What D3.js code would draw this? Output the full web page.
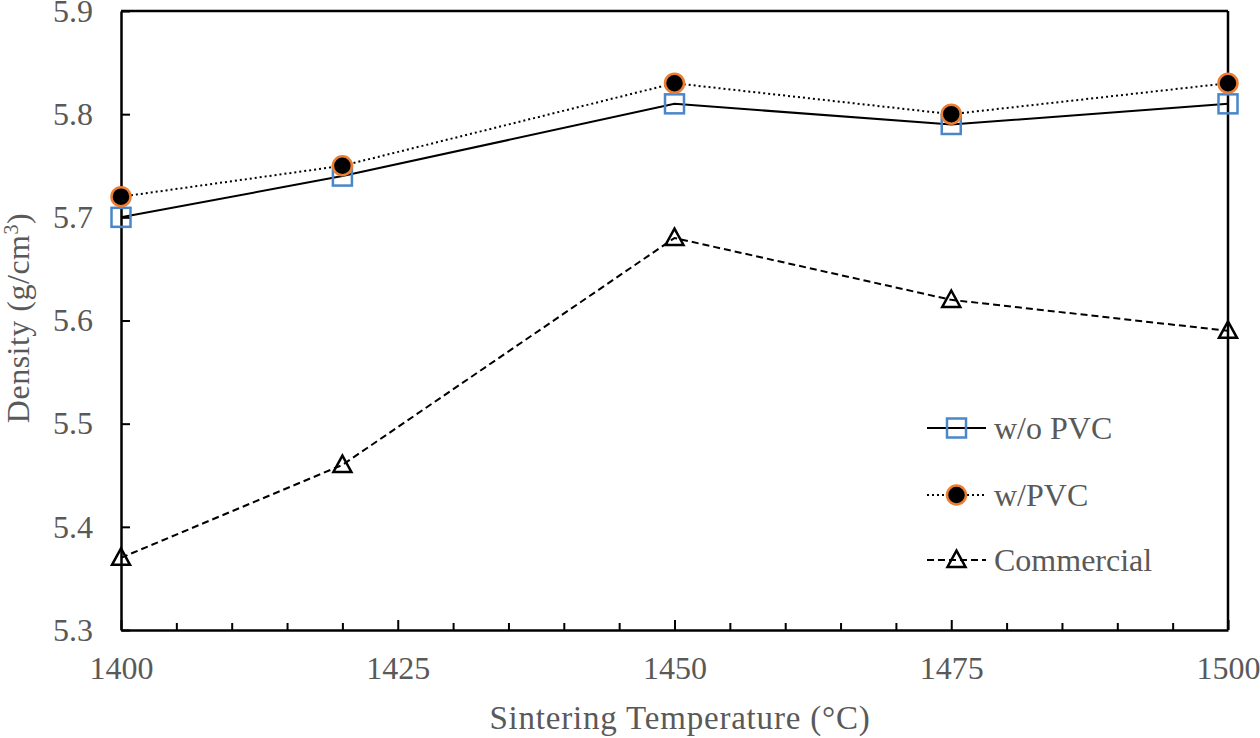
<!DOCTYPE html>
<html><head><meta charset="utf-8">
<script src="https://cdn.jsdelivr.net/npm/d3@7"></script>
<style>
html,body{margin:0;padding:0;background:#fff;}
svg{display:block;}
text{font-family:"Liberation Serif","Times New Roman",serif;fill:#595959;}
</style></head>
<body><svg id="c" width="1260" height="738"></svg>
<script>
const temps = [1400, 1420, 1450, 1475, 1500];
const woPVC = [5.70, 5.74, 5.81, 5.79, 5.81];
const wPVC = [5.72, 5.75, 5.83, 5.80, 5.83];
const commercial = [5.37, 5.46, 5.68, 5.62, 5.59];
const xTicks = [1400, 1425, 1450, 1475, 1500];
const yTicks = [5.3, 5.4, 5.5, 5.6, 5.7, 5.8, 5.9];
const seriesNames = ["w/o PVC", "w/PVC", "Commercial"];

const svg = d3.select("#c");
const L = 121, R = 1228, T = 11, B = 630;
const x = d3.scaleLinear().domain([1400, 1500]).range([L, R]);
const y = d3.scaleLinear().domain([5.3, 5.9]).range([B, T]);

svg.append("line").attr("x1", L).attr("x2", R).attr("y1", T).attr("y2", T).attr("stroke", "#000").attr("stroke-width", 2.5);
svg.append("line").attr("x1", R).attr("x2", R).attr("y1", T).attr("y2", B).attr("stroke", "#000").attr("stroke-width", 2.5);

const minor = d3.range(1405, 1500, 5).filter(v => v % 25 !== 0);
const xMinor = svg.append("g").attr("transform", `translate(0,${B})`)
  .call(d3.axisBottom(x).tickValues(minor).tickSize(-7).tickFormat(""));
xMinor.select(".domain").remove();
xMinor.selectAll("line").attr("stroke", "#000").attr("stroke-width", 2);

const xAxis = svg.append("g").attr("transform", `translate(0,${B})`)
  .call(d3.axisBottom(x).tickValues(xTicks).tickSize(-10).tickSizeOuter(0).tickFormat(d3.format("d")));
xAxis.select(".domain").attr("stroke", "#000").attr("stroke-width", 2.5);
xAxis.selectAll(".tick line").attr("stroke", "#000").attr("stroke-width", 2);
xAxis.selectAll("text").style("font-size", "32px").attr("fill", "#595959").attr("dy", "0.71em").attr("y", 26);

const yAxis = svg.append("g").attr("transform", `translate(${L},0)`)
  .call(d3.axisLeft(y).tickValues(yTicks).tickSize(-9).tickSizeOuter(0).tickPadding(28).tickFormat(d3.format(".1f")));
yAxis.select(".domain").attr("stroke", "#000").attr("stroke-width", 2.5);
yAxis.selectAll(".tick line").attr("stroke", "#000").attr("stroke-width", 2);
yAxis.selectAll("text").style("font-size", "32px").attr("fill", "#595959");

svg.append("text").attr("x", 680).attr("y", 729).attr("text-anchor", "middle")
  .style("font-size", "33px").style("letter-spacing", "0.8px").text("Sintering Temperature (°C)");
const yt = svg.append("text").attr("transform", "translate(29,318) rotate(-90)").attr("text-anchor", "middle")
  .style("font-size", "32px").style("letter-spacing", "0.5px");
yt.append("tspan").text("Density (g/cm");
yt.append("tspan").attr("dy", -11).style("font-size", "20px").text("3");
yt.append("tspan").attr("dy", 11).text(")");

const line = d3.line().x((d, i) => x(temps[i])).y(d => y(d));

const styles = [
  {data: woPVC, dash: null, marker: "square"},
  {data: wPVC, dash: "2,3", marker: "circle"},
  {data: commercial, dash: "7,4", marker: "triangle"}
];

function drawMarker(g, type, cx, cy) {
  if (type === "square") {
    g.append("rect").attr("x", cx - 9.5).attr("y", cy - 9.5).attr("width", 19).attr("height", 19)
      .attr("fill", "none").attr("stroke", "#4a86c8").attr("stroke-width", 2.5);
  } else if (type === "circle") {
    g.append("circle").attr("cx", cx).attr("cy", cy).attr("r", 9.5)
      .attr("fill", "#000").attr("stroke", "#ed7d31").attr("stroke-width", 2.5);
  } else {
    const s = 18;
    const h = s * Math.sqrt(3) / 2;
    g.append("path").attr("d", `M${cx},${cy - h * 0.6}L${cx + s / 2},${cy + h * 0.45}L${cx - s / 2},${cy + h * 0.45}Z`)
      .attr("fill", "none").attr("stroke", "#000").attr("stroke-width", 2.5).attr("stroke-linejoin", "miter");
  }
}

styles.forEach(s => {
  svg.append("path").datum(s.data).attr("d", line).attr("fill", "none")
    .attr("stroke", "#000").attr("stroke-width", 2).attr("stroke-dasharray", s.dash);
});
[2, 0, 1].forEach(k => {
  const s = styles[k];
  const g = svg.append("g");
  s.data.forEach((v, i) => drawMarker(g, s.marker, x(temps[i]), y(v)));
});

const legY = [428, 495, 560];
styles.forEach((s, k) => {
  const g = svg.append("g");
  g.append("line").attr("x1", 927).attr("x2", 986).attr("y1", legY[k]).attr("y2", legY[k])
    .attr("stroke", "#000").attr("stroke-width", 2).attr("stroke-dasharray", s.dash);
  drawMarker(g, s.marker, 956.5, legY[k]);
  g.append("text").attr("x", 994).attr("y", legY[k]).attr("dy", "0.35em")
    .style("font-size", "32px").text(seriesNames[k]);
});
</script></body></html>
